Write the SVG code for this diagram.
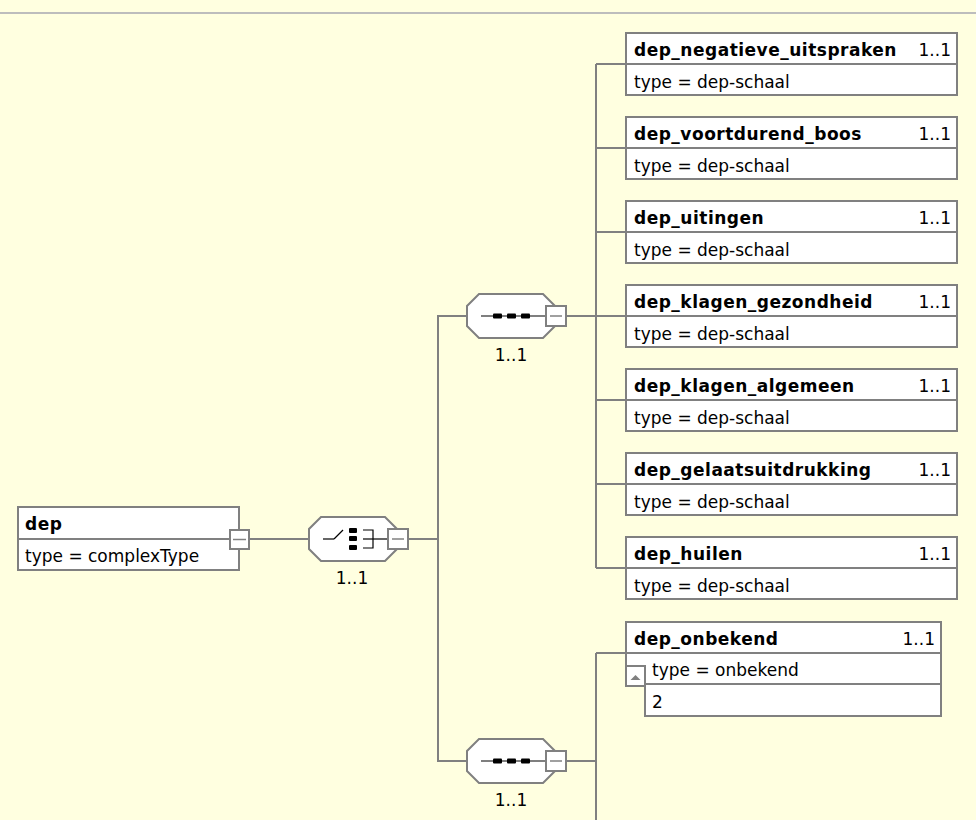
<svg xmlns="http://www.w3.org/2000/svg" xmlns:xlink="http://www.w3.org/1999/xlink" width="976" height="820" viewBox="0 0 976 820">
<style>
.bg{fill:#ffffe0}
.box{fill:#ffffff;stroke:#808080;stroke-width:2}
.conn{fill:none;stroke:#808080;stroke-width:2}
.t{font-family:"DejaVu Sans",Verdana,sans-serif;font-size:17px;fill:#000}
.b{font-weight:bold;letter-spacing:0.5px}
.occ{font-family:"DejaVu Sans",Verdana,sans-serif;font-size:17px;fill:#000;text-anchor:end}
.mid{text-anchor:middle}
.btnline{stroke:#808080;stroke-width:1.5}
.ink{stroke:#000;stroke-width:1.2;fill:none}
</style>
<defs>
<polygon id="oct" points="12,-22 76,-22 88,-10 88,10 76,22 12,22 0,10 0,-10" fill="#ffffff" stroke="#808080" stroke-width="2"/>
<g id="btn"><rect x="79" y="-10" width="20" height="20" fill="#ffffff" stroke="#808080" stroke-width="2"/><line x1="83" y1="0" x2="95" y2="0" class="btnline"/></g>
<g id="seqicon"><line x1="14" y1="0" x2="79" y2="0" class="ink"/><rect x="26" y="-2.5" width="9" height="5" rx="1" fill="#000"/><rect x="40" y="-2.5" width="9" height="5" rx="1" fill="#000"/><rect x="54" y="-2.5" width="9" height="5" rx="1" fill="#000"/></g>
</defs>
<rect class="bg" x="0" y="0" width="976" height="820"/>
<rect x="0" y="12" width="976" height="2" fill="#bdbdbd"/>
<g id="connectors">
<line class="conn" x1="249" y1="539" x2="309" y2="539"/>
<line class="conn" x1="408" y1="539" x2="438" y2="539"/>
<polyline class="conn" points="467,316 438,316 438,761 467,761"/>
<line class="conn" x1="566" y1="316" x2="596" y2="316"/>
<line class="conn" x1="596" y1="64" x2="596" y2="568"/>
<line class="conn" x1="596" y1="64" x2="626" y2="64"/>
<line class="conn" x1="596" y1="148" x2="626" y2="148"/>
<line class="conn" x1="596" y1="232" x2="626" y2="232"/>
<line class="conn" x1="596" y1="400" x2="626" y2="400"/>
<line class="conn" x1="596" y1="484" x2="626" y2="484"/>
<line class="conn" x1="596" y1="568" x2="626" y2="568"/>
<line class="conn" x1="596" y1="316" x2="626" y2="316"/>
<line class="conn" x1="566" y1="761" x2="596" y2="761"/>
<line class="conn" x1="596" y1="653" x2="596" y2="820"/>
<line class="conn" x1="596" y1="653" x2="626" y2="653"/>
</g>
<g id="dep">
<rect class="box" x="18" y="507" width="221" height="63"/>
<line class="conn" x1="18" y1="539" x2="239" y2="539"/>
<text class="t b" x="25" y="530">dep</text>
<text class="t" x="25" y="562">type = complexType</text>
<rect x="230" y="530" width="19" height="19" fill="#ffffff" stroke="#808080" stroke-width="2"/>
<line x1="233" y1="539.5" x2="246" y2="539.5" class="btnline"/>
</g>
<g id="choice" transform="translate(309,539)">
<use xlink:href="#oct"/>
<line x1="14" y1="0" x2="25" y2="0" class="ink"/>
<line x1="25" y1="0" x2="34" y2="-9" class="ink"/>
<rect x="40" y="-11" width="8" height="5" rx="1" fill="#000"/>
<rect x="40" y="-3" width="8" height="5" rx="1" fill="#000"/>
<rect x="40" y="6" width="8" height="5" rx="1" fill="#000"/>
<polyline points="54,-9 64,-9 64,9 54,9" class="ink"/>
<line x1="54" y1="0" x2="79" y2="0" class="ink"/>
<use xlink:href="#btn"/>
<text class="t mid" x="43" y="45">1..1</text>
</g>
<g id="seq1" transform="translate(467,316)">
<use xlink:href="#oct"/>
<use xlink:href="#seqicon"/>
<use xlink:href="#btn"/>
<text class="t mid" x="44" y="45">1..1</text>
</g>
<g id="seq2" transform="translate(467,761)">
<use xlink:href="#oct"/>
<use xlink:href="#seqicon"/>
<use xlink:href="#btn"/>
<text class="t mid" x="44" y="45">1..1</text>
</g>
<g id="dep_negatieve_uitspraken" transform="translate(626,33)">
<rect class="box" x="0" y="0" width="331" height="62"/><line class="conn" x1="0" y1="31" x2="331" y2="31"/>
<text class="t b" x="8" y="23">dep_negatieve_uitspraken</text><text class="occ" x="325" y="23">1..1</text>
<text class="t" x="8" y="55">type = dep-schaal</text>
</g>
<g id="dep_voortdurend_boos" transform="translate(626,117)">
<rect class="box" x="0" y="0" width="331" height="62"/><line class="conn" x1="0" y1="31" x2="331" y2="31"/>
<text class="t b" x="8" y="23">dep_voortdurend_boos</text><text class="occ" x="325" y="23">1..1</text>
<text class="t" x="8" y="55">type = dep-schaal</text>
</g>
<g id="dep_uitingen" transform="translate(626,201)">
<rect class="box" x="0" y="0" width="331" height="62"/><line class="conn" x1="0" y1="31" x2="331" y2="31"/>
<text class="t b" x="8" y="23">dep_uitingen</text><text class="occ" x="325" y="23">1..1</text>
<text class="t" x="8" y="55">type = dep-schaal</text>
</g>
<g id="dep_klagen_gezondheid" transform="translate(626,285)">
<rect class="box" x="0" y="0" width="331" height="62"/><line class="conn" x1="0" y1="31" x2="331" y2="31"/>
<text class="t b" x="8" y="23">dep_klagen_gezondheid</text><text class="occ" x="325" y="23">1..1</text>
<text class="t" x="8" y="55">type = dep-schaal</text>
</g>
<g id="dep_klagen_algemeen" transform="translate(626,369)">
<rect class="box" x="0" y="0" width="331" height="62"/><line class="conn" x1="0" y1="31" x2="331" y2="31"/>
<text class="t b" x="8" y="23">dep_klagen_algemeen</text><text class="occ" x="325" y="23">1..1</text>
<text class="t" x="8" y="55">type = dep-schaal</text>
</g>
<g id="dep_gelaatsuitdrukking" transform="translate(626,453)">
<rect class="box" x="0" y="0" width="331" height="62"/><line class="conn" x1="0" y1="31" x2="331" y2="31"/>
<text class="t b" x="8" y="23">dep_gelaatsuitdrukking</text><text class="occ" x="325" y="23">1..1</text>
<text class="t" x="8" y="55">type = dep-schaal</text>
</g>
<g id="dep_huilen" transform="translate(626,537)">
<rect class="box" x="0" y="0" width="331" height="62"/><line class="conn" x1="0" y1="31" x2="331" y2="31"/>
<text class="t b" x="8" y="23">dep_huilen</text><text class="occ" x="325" y="23">1..1</text>
<text class="t" x="8" y="55">type = dep-schaal</text>
</g>
<g id="dep_onbekend" transform="translate(626,622)">
<rect class="box" x="19" y="62" width="296" height="32"/>
<rect class="box" x="0" y="31" width="315" height="31"/>
<rect class="box" x="0" y="0" width="315" height="31"/>
<text class="t b" x="8" y="23">dep_onbekend</text><text class="occ" x="309" y="23">1..1</text>
<text class="t" x="26" y="54">type = onbekend</text>
<text class="t" x="26" y="86">2</text>
<rect x="0" y="44" width="19" height="20" fill="#ffffff" stroke="#808080" stroke-width="2"/>
<polygon points="4.5,58 14.5,58 9.5,53" fill="#808080"/>
</g>
</svg>
